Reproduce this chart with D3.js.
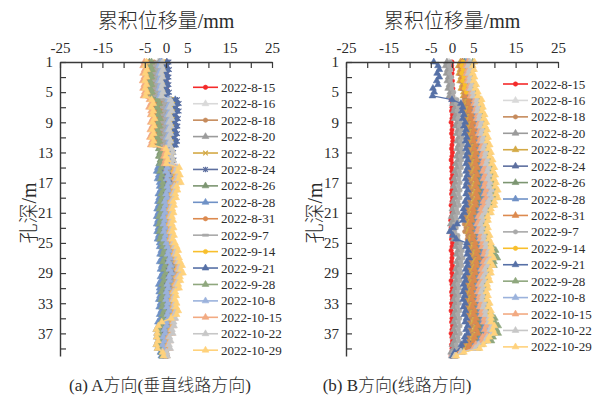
<!DOCTYPE html>
<html>
<head>
<meta charset="utf-8">
<script src="https://cdn.jsdelivr.net/npm/d3@7"></script>
<style>
  body { margin: 0; background: #fff; }
  svg { display: block; }
</style>
</head>
<body>
<script>
const width = 610;
const height = 397;

// ---- data ----
const dates = ["2022-8-15", "2022-8-16", "2022-8-18", "2022-8-20", "2022-8-22", "2022-8-24",
  "2022-8-26", "2022-8-28", "2022-8-31", "2022-9-7", "2022-9-14", "2022-9-21", "2022-9-28",
  "2022-10-8", "2022-10-15", "2022-10-22", "2022-10-29"];

const depths = [1, 1.5, 2, 2.5, 3, 3.5, 4, 4.5, 5, 5.5, 6, 6.5, 7, 7.5, 8, 8.5, 9, 9.5, 10, 10.5,
  11, 11.5, 12, 12.5, 13, 13.5, 14, 14.5, 15, 15.5, 16, 16.5, 17, 17.5, 18, 18.5, 19, 19.5, 20, 20.5,
  21, 21.5, 22, 22.5, 23, 23.5, 24, 24.5, 25, 25.5, 26, 26.5, 27, 27.5, 28, 28.5, 29, 29.5, 30, 30.5,
  31, 31.5, 32, 32.5, 33, 33.5, 34, 34.5, 35, 35.5, 36, 36.5, 37, 37.5, 38, 38.5, 39, 39.5, 40];

const xTickLabels = [-25, -15, -5, 0, 5, 15, 25];
const yTickLabels = [1, 5, 9, 13, 17, 21, 25, 29, 33, 37];

// A direction (mm)
const a0815 = [0.0,0.1,-0.1,0.0,0.1,0.0,-0.1,0.1,0.0,-0.1, 0.1,0.0,-0.1,0.1,0.0,0.1,-0.1,0.0,0.1,0.0,
  -0.1,0.0,0.1,0.0,-0.1,0.1,0.0,0.1,-0.1,0.0, 0.1,0.0,-0.1,0.0,0.1,0.0,-0.1,0.1,0.0,0.0,
  0.1,-0.1,0.0,0.1,0.0,-0.1,0.1,0.0,0.0,0.1, 0.0,-0.1,0.1,0.0,0.1,0.0,-0.1,0.0,0.1,0.0,
  -0.1,0.0,0.1,0.0,-0.1,0.1,0.0,0.0,0.1,-0.1, 0.0,0.1,0.0,-0.1,0.0,0.1,0.0,-0.1,0.0];
const a0816 = [-1.9,-2.2,-1.8,-2.2,-1.9,-2.3,-1.9,-2.2,-1.8,-2.1, -0.2,0.2,-0.3,0.2,
  -0.3,0.2,-0.3,0.1,-0.4,0.0,-0.5,0.0,-0.3, 0.0,0.3,0.0,0.4,0.1, 0.6,0.3,0.8,0.5,1.0, 0.5,0.7,0.2,0.4,
  -0.1,0.1,-0.3,0.0,-0.4,-0.1,-0.4,0.0, -0.3,0.1,-0.2,0.3, 0.5,0.9,0.6,1.1, 0.9,1.4,1.1,1.6,
  1.0,1.1,0.6,0.8, 0.3,0.5,0.2,0.6, 0.4,0.9,0.5,0.7, 0.2,0.3,-0.2,0.0, -0.5,-0.2,-0.6,-0.3, -0.5,-0.3];
const a0818 = [-2.8,-3.1,-2.7,-3.1,-2.8,-3.2,-2.8,-3.1,-2.7,-3.0, -1.3,-0.9,-1.4,-0.9,
  -1.2,-0.7,-1.2,-0.8,-1.3,-0.9,-1.4,-0.9,-1.2, -0.7,-0.4,-0.7,-0.3,-0.6, -0.2,-0.5,0.0,-0.3,0.2,
  -0.2,0.0,-0.5,-0.3, -0.7,-0.5,-0.9,-0.6,-1.0,-0.7,-1.0,-0.6, -0.9,-0.5,-0.8,-0.3, -0.2,0.2,-0.1,0.4,
  0.1,0.6,0.3,0.8, 0.2,0.3,-0.2,0.0, -0.3,-0.1,-0.4,0.0, -0.3,0.2,-0.2,0.0, -0.5,-0.4,-0.9,-0.7,
  -1.1,-0.8,-1.2,-0.9, -0.8,-0.6];
const a0820 = [-1.6,-1.9,-1.5,-1.9,-1.6,-2.0,-1.6,-1.9,-1.5,-1.8, 0.1,0.5,0.0,0.5,
  0.0,0.5,0.0,0.4,-0.1,0.3,-0.2,0.3,0.0, 0.3,0.6,0.3,0.7,0.4, 0.9,0.6,1.1,0.8,1.3, 0.7,0.9,0.4,0.6,
  0.1,0.3,-0.1,0.2,-0.2,0.1,-0.2,0.2, -0.1,0.3,0.0,0.5, 0.7,1.1,0.8,1.3, 1.2,1.7,1.4,1.9,
  1.3,1.4,0.9,1.1, 0.5,0.7,0.4,0.8, 0.6,1.1,0.7,0.9, 0.4,0.5,0.0,0.2, -0.3,0.0,-0.4,-0.1, -0.4,-0.2];
const a0822 = [-0.7,-1.0,-0.6,-1.0,-0.7,-1.1,-0.7,-1.0,-0.6,-0.9, 1.2,1.6,1.1,1.6,
  1.0,1.5,1.0,1.4,0.9,1.3,0.8,1.3,1.0, 0.8,1.1,0.8,1.2,0.9, 1.2,0.9,1.4,1.1,1.6, 0.9,1.1,0.6,0.8,
  0.3,0.5,0.1,0.4,0.0,0.3,0.0,0.4, 0.1,0.5,0.2,0.7, 0.9,1.3,1.0,1.5, 1.4,1.9,1.6,2.1,
  1.5,1.6,1.1,1.3, 0.7,0.9,0.6,1.0, 0.8,1.3,0.9,1.1, 0.7,0.8,0.3,0.5, -0.1,0.2,-0.2,0.1, -0.3,-0.1];
const a0824 = [0.7,0.4,0.8,0.4,0.7,0.3,0.7,0.4,0.8,0.5, 2.7,3.1,2.6,3.1,
  2.4,2.9,2.4,2.8,2.3,2.7,2.2,2.7,2.4, 1.5,1.8,1.5,1.9,1.6, 1.4,1.1,1.6,1.3,1.8, 1.2,1.4,0.9,1.1,
  0.5,0.7,0.3,0.6,0.2,0.5,0.2,0.6, 0.3,0.7,0.4,0.9, 1.2,1.6,1.3,1.8, 1.7,2.2,1.9,2.4,
  1.8,1.9,1.4,1.6, 0.9,1.1,0.8,1.2, 1.1,1.6,1.2,1.4, 0.9,1.0,0.5,0.7, 0.1,0.4,0.0,0.3, -0.2,0.0];
const a0826 = [-3.9,-4.2,-3.8,-4.2,-3.9,-4.3,-3.9,-4.2,-3.8,-4.1, -2.5,-2.1,-2.6,-2.1,
  -2.4,-1.9,-2.4,-2.0,-2.5,-2.1,-2.6,-2.1,-2.4, -1.7,-1.4,-1.7,-1.3,-1.6, -1.4,-1.7,-1.2,-1.5,-1.0,
  -1.0,-0.8,-1.3,-1.1, -1.5,-1.3,-1.7,-1.4,-1.8,-1.5,-1.8,-1.4, -1.7,-1.3,-1.6,-1.1, -1.0,-0.6,-0.9,-0.4,
  -1.0,-0.5,-0.8,-0.3, -0.8,-0.7,-1.2,-1.0, -1.2,-1.0,-1.3,-0.9, -1.1,-0.6,-1.0,-0.8, -1.4,-1.3,-1.8,-1.6,
  -1.8,-1.5,-1.9,-1.6, -1.1,-0.9];
const a0828 = [-1.1,-1.4,-1.0,-1.4,-1.1,-1.5,-1.1,-1.4,-1.0,-1.3, 0.6,1.0,0.5,1.0,
  0.5,1.0,0.5,0.9,0.4,0.8,0.3,0.8,0.5, -0.8,-0.5,-0.8,-0.4,-0.7, -1.9,-2.2,-1.7,-2.0,-1.5,
  -1.5,-1.3,-1.8,-1.6, -1.9,-1.7,-2.1,-1.8,-2.2,-1.9,-2.2,-1.8, -2.1,-1.7,-2.0,-1.5, -1.5,-1.1,-1.4,-0.9,
  -1.5,-1.0,-1.3,-0.8, -1.3,-1.2,-1.7,-1.5, -1.6,-1.4,-1.7,-1.3, -1.6,-1.1,-1.5,-1.3, -1.9,-1.8,-2.3,-2.1,
  -2.2,-1.9,-2.3,-2.0, -1.3,-1.1];
const a0831 = [-4.3,-4.6,-4.2,-4.6,-4.3,-4.7,-4.3,-4.6,-4.2,-4.5, -3.1,-2.7,-3.2,-2.7,
  -2.8,-2.3,-2.8,-2.4,-2.9,-2.5,-3.0,-2.5,-2.8, -1.2,-0.9,-1.2,-0.8,-1.1, 0.0,-0.3,0.2,-0.1,0.4,
  0.1,0.3,-0.2,0.0, -0.5,-0.3,-0.7,-0.4,-0.8,-0.5,-0.8,-0.4, -0.7,-0.3,-0.6,-0.1, 0.1,0.5,0.2,0.7,
  0.4,0.9,0.6,1.1, 0.5,0.6,0.1,0.3, -0.1,0.1,-0.2,0.2, 0.0,0.5,0.1,0.3, -0.3,-0.2,-0.7,-0.5,
  -0.9,-0.6,-1.0,-0.7, -0.7,-0.5];
const a0907 = [-2.2,-2.5,-2.1,-2.5,-2.2,-2.6,-2.2,-2.5,-2.1,-2.4, -0.6,-0.2,-0.7,-0.2,
  -0.6,-0.1,-0.6,-0.2,-0.7,-0.3,-0.8,-0.3,-0.6, 0.4,0.7,0.4,0.8,0.5, 1.7,1.4,1.9,1.6,2.1, 1.4,1.6,1.1,1.3,
  0.7,0.9,0.5,0.8,0.4,0.7,0.4,0.8, 0.5,0.9,0.6,1.1, 1.4,1.8,1.5,2.0, 2.0,2.5,2.2,2.7,
  2.0,2.1,1.6,1.8, 1.1,1.3,1.0,1.4, 1.3,1.8,1.4,1.6, 1.1,1.2,0.7,0.9, 0.3,0.6,0.2,0.5, -0.1,0.1];
const a0914 = [-0.4,-0.7,-0.3,-0.7,-0.4,-0.8,-0.4,-0.7,-0.3,-0.6, 1.5,1.9,1.4,1.9,
  1.3,1.8,1.3,1.7,1.2,1.6,1.1,1.6,1.3, 1.3,1.6,1.3,1.7,1.4, 2.0,1.7,2.2,1.9,2.4, 1.6,1.8,1.3,1.5,
  0.9,1.1,0.7,1.0,0.6,0.9,0.6,1.0, 0.7,1.1,0.8,1.3, 1.6,2.0,1.7,2.2, 2.3,2.8,2.5,3.0,
  2.3,2.4,1.9,2.1, 1.4,1.6,1.3,1.7, 1.5,2.0,1.6,1.8, 1.4,1.5,1.0,1.2, 0.5,0.8,0.4,0.7, 0.0,0.2];
const a0921 = [0.2,-0.1,0.3,-0.1,0.2,-0.2,0.2,-0.1,0.3,0.0, 2.2,2.6,2.1,2.6,
  2.0,2.5,2.0,2.4,1.9,2.3,1.8,2.3,2.0, 0.3,0.6,0.3,0.7,0.4, -0.8,-1.1,-0.6,-0.9,-0.4, -0.6,-0.4,-0.9,-0.7,
  -1.1,-0.9,-1.3,-1.0,-1.4,-1.1,-1.4,-1.0, -1.3,-0.9,-1.2,-0.7, -0.6,-0.2,-0.5,0.0,
  -0.5,0.0,-0.3,0.2, -0.3,-0.2,-0.7,-0.5, -0.8,-0.6,-0.9,-0.5, -0.7,-0.2,-0.6,-0.4, -1.0,-0.9,-1.4,-1.2,
  -1.5,-1.2,-1.6,-1.3, -1.0,-0.8];
const a0928 = [-3.4,-3.7,-3.3,-3.7,-3.4,-3.8,-3.4,-3.7,-3.3,-3.6, -2.0,-1.6,-2.1,-1.6,
  -1.9,-1.4,-1.9,-1.5,-2.0,-1.6,-2.1,-1.6,-1.9, -1.4,-1.1,-1.4,-1.0,-1.3, -1.1,-1.4,-0.9,-1.2,-0.7,
  -0.8,-0.6,-1.1,-0.9, -1.3,-1.1,-1.5,-1.2,-1.6,-1.3,-1.6,-1.2, -1.5,-1.1,-1.4,-0.9, -0.8,-0.4,-0.7,-0.2,
  -0.7,-0.2,-0.5,0.0, -0.5,-0.4,-0.9,-0.7, -1.0,-0.8,-1.1,-0.7, -0.9,-0.4,-0.8,-0.6, -1.2,-1.1,-1.6,-1.4,
  -1.6,-1.3,-1.7,-1.4, -1.0,-0.8];
const a1008 = [-1.3,-1.6,-1.2,-1.6,-1.3,-1.7,-1.3,-1.6,-1.2,-1.5, 0.5,0.9,0.4,0.9,
  0.4,0.9,0.4,0.8,0.3,0.7,0.2,0.7,0.4, 0.2,0.5,0.2,0.6,0.3, 0.3,0.0,0.5,0.2,0.7, 0.3,0.5,0.0,0.2,
  -0.3,-0.1,-0.5,-0.2,-0.6,-0.3,-0.6,-0.2, -0.5,-0.1,-0.4,0.1, 0.3,0.7,0.4,0.9, 0.6,1.1,0.8,1.3,
  0.7,0.8,0.3,0.5, 0.1,0.3,0.0,0.4, 0.2,0.7,0.3,0.5, 0.0,0.1,-0.4,-0.2, -0.7,-0.4,-0.8,-0.5, -0.6,-0.4];
const a1015 = [-5.1,-5.4,-5.0,-5.4,-5.1,-5.5,-5.1,-5.4,-5.0,-5.3, -3.9,-3.5,-4.0,-3.5,
  -3.6,-3.1,-3.6,-3.2,-3.7,-3.3,-3.8,-3.3,-3.6, -0.5,-0.2,-0.5,-0.1,-0.4, 2.3,2.0,2.5,2.2,2.7, 1.8,2.0,1.5,1.7,
  1.1,1.3,0.9,1.2,0.8,1.1,0.8,1.2, 0.9,1.3,1.0,1.5, 1.8,2.2,1.9,2.4, 2.5,3.0,2.7,3.2,
  2.5,2.6,2.1,2.3, 1.6,1.8,1.5,1.9, 1.7,2.2,1.8,2.0, 1.6,1.7,1.2,1.4, 0.6,0.9,0.5,0.8, 0.0,0.2];
const a1022 = [-0.8,-1.1,-0.7,-1.1,-0.8,-1.2,-0.8,-1.1,-0.7,-1.0, 1.0,1.4,0.9,1.4,
  0.8,1.3,0.8,1.2,0.7,1.1,0.6,1.1,0.8, 1.3,1.6,1.3,1.7,1.4, 2.6,2.3,2.8,2.5,3.0, 2.0,2.2,1.7,1.9,
  1.3,1.5,1.1,1.4,1.0,1.3,1.0,1.4, 1.1,1.5,1.2,1.7, 2.0,2.4,2.1,2.6, 2.8,3.3,3.0,3.5,
  2.8,2.9,2.4,2.6, 1.8,2.0,1.7,2.1, 1.9,2.4,2.0,2.2, 1.8,1.9,1.4,1.6, 0.8,1.1,0.7,1.0, 0.1,0.3];
const a1029 = [-4.6,-4.9,-4.5,-4.9,-4.6,-5.0,-4.6,-4.9,-4.5,-4.8, -3.4,-3.0,-3.5,-3.0,
  -3.2,-2.7,-3.2,-2.8,-3.3,-2.9,-3.4,-2.9,-3.2, 0.0,0.3,0.0,0.4,0.1, 3.1,2.8,3.3,3.0,3.5, 2.5,2.7,2.2,2.4,
  1.7,1.9,1.5,1.8,1.4,1.7,1.4,1.8, 1.5,1.9,1.6,2.1, 2.5,2.9,2.6,3.1, 3.3,3.8,3.5,4.0,
  3.3,3.4,2.9,3.1, 2.2,2.4,2.1,2.5, 2.4,2.9,2.5,1.2, -1.0,-1.8,-2.3,-2.1, -2.2,-1.9,-2.3,-2.0, -0.8,-0.6];

// B direction (mm)
const b0815 = [0.0,-0.1,0.1,0.0,-0.1,0.1,0.0,0.2,-0.1,0.1, -0.2,0.1,0.0,-0.1,0.1,0.0,-0.2,0.1,0.0,-0.1,
  0.1,0.2,0.0,-0.1,0.1,0.0,-0.2,0.1,-0.1,0.0, 0.1,-0.1,0.0,0.2,0.0,-0.1,0.1,0.0,-0.2,0.1,
  0.0,-0.1,-0.3,0.0,-0.2,0.1,0.0,-0.1,0.1,0.0, -0.2,0.1,0.0,-0.1,0.1,-0.1,0.0,0.1,-0.2,0.0,
  0.1,-0.1,0.0,0.1,-0.1,0.0,-0.2,0.1,0.0,-0.1, 0.1,0.0,-0.2,0.0,0.1,-0.1,0.0,-0.1,-0.2];
const b0816 = [-0.7,-1.0,-0.6,-0.9,-0.4,-0.7,-0.2,-0.4,0.1,-0.1, 0.9,0.7,1.2,0.9,1.4,1.1,1.7,1.4,1.9,1.6,
  2.1,1.7,2.2,1.8,2.2,1.7,2.0,1.6,1.9,1.4, 1.7,1.3,1.6,1.2,1.6,1.2,1.6,1.1,1.4,0.8,
  1.1,0.6,0.9,0.4,0.7,0.3,1.1,1.1,1.8,1.6, 2.1,1.8,2.3,1.8,2.0,1.5,1.8,1.3,1.6,1.1,
  1.4,1.0,1.4,1.0,1.4,1.0,1.5,1.1,1.5,1.2, 1.6,1.2,1.6,1.1,1.3,0.7,0.8,-0.1,-0.1];
const b0818 = [2.5,2.1,2.6,2.3,2.7,2.5,3.0,2.7,3.3,3.2, 2.9,2.8,3.2,3.0,3.5,3.2,3.8,3.5,4.0,3.7,
  4.2,3.9,4.4,4.0,4.5,4.1,4.6,4.2,4.6,4.2, 4.6,4.1,4.5,4.2,4.7,4.3,4.7,4.1,4.2,3.6,
  3.8,3.2,3.4,2.9,3.3,3.0,3.7,3.6,4.3,4.1, 4.7,4.5,5.0,4.4,4.6,4.0,4.3,3.7,4.0,3.5,
  3.8,3.4,3.8,3.4,3.9,3.6,4.0,3.8,4.4,4.1, 4.7,4.3,4.7,3.9,3.9,2.9,2.7,0.9,0.3];
const b0820 = [-1.2,-1.5,-1.0,-1.3,-0.8,-1.1,-0.6,-0.9,-0.4,-0.6, 0.4,0.2,0.7,0.4,0.9,0.6,1.2,0.9,1.4,1.1,
  1.6,1.2,1.6,1.2,1.6,1.1,1.4,0.9,1.2,0.7, 1.0,0.5,0.8,0.4,0.8,0.4,0.8,0.3,0.6,0.1,
  0.4,-0.1,0.2,-0.3,0.0,-0.4,0.4,0.4,1.2,0.9, 1.4,1.1,1.6,1.1,1.4,0.9,1.2,0.7,1.0,0.5,
  0.8,0.4,0.8,0.4,0.8,0.4,0.8,0.4,0.8,0.4, 0.8,0.4,0.8,0.3,0.6,0.1,0.4,-0.2,0.0];
const b0822 = [2.0,1.6,2.0,1.7,2.2,1.9,2.5,2.2,2.8,2.7, 3.6,3.5,3.9,3.7,4.2,4.0,4.6,4.3,4.8,4.5,
  5.0,4.7,5.2,4.8,5.3,5.0,5.4,5.1,5.5,5.1, 5.5,5.1,5.5,5.2,5.7,5.3,5.7,5.1,5.2,4.6,
  4.7,4.1,4.3,3.8,4.2,3.9,4.6,4.5,5.1,5.0, 5.6,5.4,5.9,5.3,5.4,4.9,5.1,4.6,4.9,4.3,
  4.6,4.2,4.6,4.3,4.8,4.4,4.9,4.7,5.3,5.1, 5.7,5.3,5.7,4.9,4.8,3.7,3.4,1.2,0.4];
const b0824 = [2.5,2.2,2.5,2.2,2.7,2.4,3.0,2.8,3.3,3.2, 4.2,4.0,4.5,4.2,4.8,4.6,5.2,4.9,5.4,5.1,
  5.6,5.3,5.8,5.5,6.0,5.7,6.1,5.8,6.3,5.9, 6.3,6.0,6.4,6.1,6.6,6.2,6.6,5.9,6.1,5.4,
  5.5,4.8,5.0,4.6,4.9,4.6,5.3,5.2,5.8,5.7, 6.4,6.1,6.7,6.0,6.1,5.6,5.8,5.3,5.6,5.0,
  5.2,4.8,5.2,5.0,5.5,5.1,5.7,5.5,6.1,6.0, 6.6,6.2,6.6,5.7,5.6,4.3,3.9,1.4,0.4];
const b0826 = [2.9,2.6,2.9,2.6,3.1,2.8,3.4,3.2,3.7,3.6, 4.6,4.4,4.9,4.6,5.2,5.0,5.6,5.3,5.8,5.5,
  6.0,5.7,6.2,5.9,6.4,6.1,6.5,6.2,6.7,6.3, 6.7,6.4,6.8,6.5,7.0,6.6,7.0,6.3,6.5,5.8,
  5.9,5.2,5.4,5.0,5.3,5.0,5.7,5.6,6.2,6.1, 6.8,6.5,7.1,6.4,6.5,6.0,6.2,5.7,6.0,5.4,
  5.6,5.2,5.6,5.4,5.9,5.5,6.1,5.9,6.5,6.4, 7.0,6.6,7.0,6.1,6.0,4.7,4.3,1.8,0.6];
const b0828 = [3.3,2.9,3.3,3.0,3.4,3.2,3.8,3.5,4.1,4.0, 5.0,4.8,5.3,5.0,5.6,5.4,6.0,5.7,6.2,5.9,
  6.4,6.1,6.7,6.3,6.9,6.6,7.1,6.8,7.3,6.9, 7.4,7.0,7.5,7.2,7.7,7.3,7.7,7.0,7.1,6.4,
  6.5,5.8,6.0,5.5,5.9,5.6,6.3,6.2,6.7,6.7, 7.4,7.1,7.7,7.0,7.1,6.5,6.7,6.2,6.5,5.9,
  6.1,5.7,6.1,5.9,6.4,6.1,6.6,6.5,7.2,7.1, 7.7,7.3,7.7,6.8,6.6,5.2,4.6,1.8,0.6];
const b0831 = [2.4,2.0,2.4,2.1,2.6,2.3,2.9,2.6,3.2,3.1, 4.0,3.9,4.3,4.1,4.6,4.4,5.0,4.7,5.2,4.9,
  5.4,5.1,5.6,5.2,5.7,5.4,5.8,5.5,5.9,5.5, 5.9,5.5,5.9,5.6,6.1,5.7,6.1,5.5,5.6,5.0,
  5.1,4.5,4.7,4.2,4.6,4.3,5.0,4.9,5.5,5.4, 6.0,5.8,6.3,5.7,5.8,5.3,5.5,5.0,5.3,4.7,
  5.0,4.6,5.0,4.7,5.2,4.8,5.3,5.1,5.7,5.5, 6.1,5.7,6.1,5.3,5.2,4.1,3.8,1.6,0.6];
const b0907 = [-0.4,-0.7,-0.3,-0.6,-0.1,-0.4,0.1,-0.1,0.4,0.2, 1.2,1.0,1.5,1.2,1.7,1.4,2.0,1.7,2.2,1.9,
  2.4,2.0,2.5,2.1,2.5,2.0,2.3,1.9,2.2,1.7, 2.0,1.6,1.9,1.5,1.9,1.5,1.9,1.4,1.7,1.1,
  1.4,0.9,1.2,0.7,1.0,0.6,1.4,1.4,2.1,1.9, 2.4,2.1,2.6,2.1,2.3,1.8,2.1,1.6,1.9,1.4,
  1.7,1.3,1.7,1.3,1.7,1.3,1.8,1.4,1.8,1.5, 1.9,1.5,1.9,1.4,1.6,1.0,1.1,0.2,0.0];
const b0914 = [2.6,2.3,2.6,2.3,2.8,2.5,3.1,2.9,3.4,4.5, 6.3,6.2,6.6,6.4,7.0,6.8,7.4,7.1,7.6,7.3,
  7.8,7.6,8.2,7.8,8.4,8.2,8.8,8.5,9.1,8.8, 9.3,8.9,9.4,9.2,9.8,9.4,9.8,9.0,9.0,8.3,
  8.3,7.5,7.7,7.2,7.6,7.4,8.0,7.9,8.4,8.4, 9.1,8.9,9.5,8.7,8.8,8.2,8.4,7.8,8.1,7.5,
  7.7,7.3,7.7,7.5,8.1,7.8,8.3,8.3,9.1,9.0, 9.8,9.4,9.8,8.7,8.3,6.7,5.9,2.5,0.9];
const b0921 = [-4.3,-3.3,-3.0,-3.5,-3.0,-3.6,-3.3,-4.5,-4.2,-4.6, 0.0,2.1,2.5,2.3,2.8,2.5,3.1,2.8,3.3,3.0,
  3.5,3.2,3.7,3.3,3.7,3.3,3.7,3.3,3.7,3.3, 3.6,3.2,3.5,3.2,3.7,3.3,3.7,3.1,3.3,2.7,
  2.9,2.3,2.6,1.2,0.3,-0.5,0.2,1.0,3.5,3.3, 3.8,3.6,4.1,3.5,3.7,3.2,3.5,2.9,3.2,2.7,
  3.0,2.6,3.0,2.6,3.1,2.7,3.2,2.9,3.4,3.1, 3.7,3.3,3.7,3.0,3.0,2.2,2.1,0.6,0.2];
const b0928 = [4.9,4.5,4.8,4.5,4.9,4.7,5.3,5.1,5.7,5.7, 6.6,6.5,6.9,6.7,7.3,7.1,7.7,7.4,7.9,7.6,
  8.1,7.9,8.5,8.2,8.8,8.6,9.2,9.0,9.6,9.3, 9.8,9.5,10.0,9.8,10.4,10.0,10.4,9.6,9.6,8.8,
  8.8,8.0,8.1,7.7,8.1,7.9,8.5,8.3,8.8,9.5, 10.3,10.1,10.7,9.9,9.9,8.6,8.8,8.2,8.5,7.9,
  8.1,7.7,8.1,7.9,8.5,8.2,8.8,9.3,10.1,10.1, 10.9,10.5,10.9,9.7,9.3,7.0,6.1,2.4,0.6];
const b1008 = [4.0,3.6,3.9,3.6,4.0,3.8,4.4,4.2,4.8,4.7, 5.6,5.5,5.9,5.7,6.3,6.1,6.7,6.4,6.9,6.6,
  7.1,6.8,7.4,7.1,7.6,7.4,7.9,7.7,8.2,7.9, 8.3,8.0,8.4,8.2,8.8,8.4,8.8,8.0,8.1,7.3,
  7.4,6.7,6.8,6.4,6.8,6.5,7.2,7.0,7.6,7.5, 8.2,8.0,8.6,7.9,7.9,7.3,7.6,7.0,7.3,6.7,
  6.9,6.5,6.9,6.7,7.2,6.9,7.5,7.4,8.1,8.0, 8.8,8.4,8.8,7.7,7.4,5.9,5.2,2.2,0.8];
const b1015 = [3.7,3.3,3.7,3.4,3.8,3.6,4.2,3.9,4.5,4.4, 5.4,5.2,5.7,5.4,6.0,5.8,6.4,6.1,6.6,6.3,
  6.8,6.5,7.1,6.7,7.3,7.0,7.5,7.2,7.7,7.3, 7.8,7.4,7.9,7.6,8.1,7.7,8.1,7.4,7.5,6.8,
  6.9,6.2,6.4,5.9,6.3,6.0,6.7,6.6,7.1,7.1, 7.8,7.5,8.1,7.4,7.5,6.9,7.1,6.6,6.9,6.3,
  6.5,6.1,6.5,6.3,6.8,6.5,7.0,6.9,7.6,7.5, 8.1,7.7,8.1,7.2,7.0,5.6,5.0,2.0,0.7];
const b1022 = [4.2,3.8,4.2,3.9,4.3,4.1,4.7,4.4,5.0,5.0, 5.9,5.8,6.2,6.0,6.6,6.4,7.0,6.7,7.2,6.9,
  7.4,7.2,7.8,7.4,8.0,7.8,8.4,8.1,8.7,8.4, 8.9,8.5,9.0,8.8,9.4,9.0,9.4,8.6,8.6,7.9,
  7.9,7.1,7.3,6.8,7.2,7.0,7.6,7.5,8.0,8.0, 8.7,8.5,9.1,8.3,8.4,7.8,8.0,7.4,7.7,7.1,
  7.3,6.9,7.3,7.1,7.7,7.4,7.9,7.9,8.7,8.6, 9.4,9.0,9.4,8.3,7.9,6.3,5.5,2.1,0.7];
const b1029 = [5.3,4.9,5.2,4.9,5.3,5.1,5.7,5.5,6.1,6.1, 7.0,6.9,7.3,7.1,7.7,7.5,8.1,7.8,8.3,8.0,
  8.5,8.3,8.9,8.6,9.2,9.0,9.6,9.4,10.0,9.7, 10.2,9.9,10.4,10.2,10.8,10.4,10.8,10.0,10.0,9.2,
  9.2,8.4,8.5,8.1,8.5,8.3,8.9,8.7,9.2,9.2, 9.4,9.2,9.8,9.0,9.6,9.0,9.2,8.6,8.9,8.3,
  8.5,8.1,8.5,8.3,8.9,8.6,9.2,9.2,9.2,9.2, 10.0,9.6,10.0,8.8,8.4,7.4,6.5,2.8,1.0];

const seriesA = [a0815, a0816, a0818, a0820, a0822, a0824, a0826, a0828, a0831, a0907,
  a0914, a0921, a0928, a1008, a1015, a1022, a1029];
const seriesB = [b0815, b0816, b0818, b0820, b0822, b0824, b0826, b0828, b0831, b0907,
  b0914, b0921, b0928, b1008, b1015, b1022, b1029];

// ---- style ----
const colors = ["#f42a2a", "#d9d9d9", "#c68b5c", "#9b9b9b", "#d3a945", "#5d6f9f", "#7c9571",
  "#6f91c6", "#dc8a4f", "#a9a9a9", "#f8bf2c", "#5670a6", "#8fa77e", "#9bb2dc", "#f2aa82", "#c7c7c7", "#ffd27c"];
const markersA = ["circle", "triangle", "circle", "triangle", "x", "star", "triangle", "triangle", "circle",
  "dash", "circle", "triangle", "triangle", "triangle", "triangle", "triangle", "triangle"];
const markersB = ["circle", "triangle", "circle", "triangle", "triangle", "triangle", "triangle", "triangle",
  "triangle", "circle", "circle", "triangle", "triangle", "triangle", "triangle", "triangle", "triangle"];

const fontFam = '"Liberation Serif", "Times New Roman", "Noto Sans CJK SC", serif';
const textColor = "#2b2b2b";
const axisColor = "#3a3a3a";

const symbols = {
  circle: d3.symbol().type(d3.symbolCircle).size(15)(),
  triangle: d3.symbol().type(d3.symbolTriangle).size(20)(),
  x: "M-2.3,-2.3L2.3,2.3M-2.3,2.3L2.3,-2.3",
  star: "M-2.3,-2.3L2.3,2.3M-2.3,2.3L2.3,-2.3M0,-2.8L0,2.8",
  dash: "M-3,-1.1H3V1.1H-3Z",
};

const svg = d3
  .select("body")
  .append("svg")
  .attr("width", width)
  .attr("height", height)
  .style("font-family", fontFam);

const yTop = 62;
const yBottom = 356;

const panels = [
  { x0: 60, x1: 272, series: seriesA, markers: markersA, legX: 193, legY: 87.3,
    caption: "(a) A方向(垂直线路方向)", capX: 160 },
  { x0: 346, x1: 558, series: seriesB, markers: markersB, legX: 503, legY: 84,
    caption: "(b) B方向(线路方向)", capX: 397 },
];

function drawMarker(sel, type, color) {
  sel.append("path")
    .attr("d", symbols[type])
    .attr("fill", type === "x" || type === "star" ? "none" : color)
    .attr("stroke", color)
    .attr("stroke-width", type === "x" || type === "star" ? 1.2 : 0.6);
}

panels.forEach((p) => {
  const x = d3.scaleLinear().domain([-25, 25]).range([p.x0, p.x1]);
  const y = d3.scaleLinear().domain([1, 40]).range([yTop, yBottom]);

  const g = svg.append("g");

  // data lines + markers, in series order
  p.series.forEach((vals, k) => {
    const pts = vals.map((v, i) => [v, depths[i]]).filter((d) => d[1] !== undefined);
    const color = colors[k];
    g.append("path")
      .datum(pts)
      .attr("fill", "none")
      .attr("stroke", color)
      .attr("stroke-width", 1.2)
      .attr("d", d3.line().x((d) => x(d[0])).y((d) => y(d[1])));
    const mg = g.append("g");
    pts.forEach((d) => {
      const m = mg.append("g").attr("transform", `translate(${x(d[0])},${y(d[1])})`);
      drawMarker(m, p.markers[k], color);
    });
  });

  // axes
  const xAxis = d3.axisTop(x)
    .tickValues(d3.range(-25, 26, 5))
    .tickSizeInner(-6)
    .tickSizeOuter(0)
    .tickPadding(9)
    .tickFormat((d) => (xTickLabels.includes(d) ? String(d) : ""));
  const gx = svg.append("g").attr("transform", `translate(0,${yTop})`).call(xAxis);

  const yAxis = d3.axisLeft(y)
    .tickValues(d3.range(1, 40, 2))
    .tickSizeInner(-6)
    .tickSizeOuter(0)
    .tickPadding(7)
    .tickFormat((d) => (yTickLabels.includes(d) ? String(d) : ""));
  const gy = svg.append("g").attr("transform", `translate(${p.x0},0)`).call(yAxis);

  [gx, gy].forEach((ga) => {
    ga.select(".domain").attr("stroke", axisColor).attr("stroke-width", 1.4);
    ga.selectAll(".tick line").attr("stroke", axisColor).attr("stroke-width", 1.2);
    ga.selectAll(".tick text")
      .attr("fill", textColor)
      .style("font-family", fontFam)
      .style("font-size", "15px");
  });

  // titles
  svg.append("text")
    .attr("x", (p.x0 + p.x1) / 2)
    .attr("y", 28)
    .attr("text-anchor", "middle")
    .attr("fill", textColor)
    .style("font-size", "20px")
    .style("font-weight", 300)
    .text("累积位移量/mm");

  svg.append("text")
    .attr("transform", `translate(${p.x0 - 31},${(yTop + yBottom) / 2 + 4}) rotate(-90)`)
    .attr("text-anchor", "middle")
    .attr("dy", "0.35em")
    .attr("fill", textColor)
    .style("font-size", "20px")
    .style("font-weight", 300)
    .text("孔深/m");

  svg.append("text")
    .attr("x", p.capX)
    .attr("y", 391)
    .attr("text-anchor", "middle")
    .attr("fill", textColor)
    .style("font-size", "17px")
    .style("font-weight", 300)
    .text(p.caption);

  // legend
  const leg = svg.append("g");
  dates.forEach((dt, k) => {
    const ly = p.legY + k * 16.43;
    leg.append("line")
      .attr("x1", p.legX).attr("x2", p.legX + 25)
      .attr("y1", ly).attr("y2", ly)
      .attr("stroke", colors[k]).attr("stroke-width", 1.6);
    const m = leg.append("g").attr("transform", `translate(${p.legX + 12.5},${ly})`);
    drawMarker(m, p.markers[k], colors[k]);
    leg.append("text")
      .attr("x", p.legX + 28)
      .attr("y", ly)
      .attr("dy", "0.35em")
      .attr("fill", textColor)
      .style("font-size", "13px")
      .text(dt);
  });
});
</script>
</body>
</html>
